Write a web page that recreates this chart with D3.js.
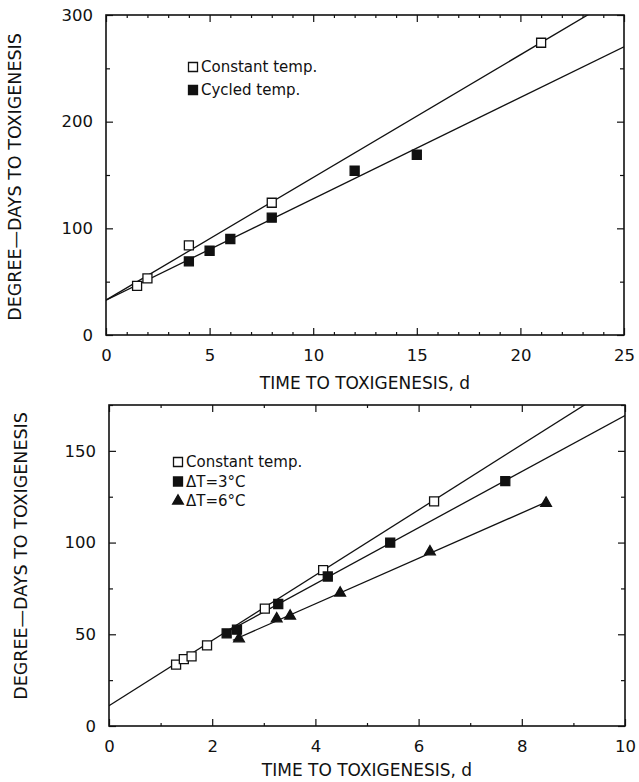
<!DOCTYPE html>
<html>
<head>
<meta charset="utf-8">
<script src="https://cdn.jsdelivr.net/npm/d3@7"></script>
<style>
  body { margin: 0; background: #fff; }
  text { font-family: "DejaVu Sans", sans-serif; fill: #111; }
</style>
</head>
<body>
<script>
// ---- top panel data (days, degree-days) ----
const topConstX = [1.5, 2, 4, 8, 21];
const topConstY = [46, 53, 84, 124, 274];
const topCycledX = [4, 5, 6, 8, 12, 15];
const topCycledY = [69, 79, 90, 110, 154, 169];
// fitted lines: [intercept, slope, xStart, xEnd]
const topConstFit = [32.7, 11.5, 0, 25];
const topCycledFit = [32.7, 9.5, 0, 25];

// ---- bottom panel data ----
const botConstX = [1.3, 1.45, 1.6, 1.9, 3.02, 4.15, 6.3];
const botConstY = [33.5, 36.5, 38, 44, 64, 85, 122.5];
const bot3X = [2.28, 2.48, 3.28, 4.24, 5.45, 7.68];
const bot3Y = [50.5, 52.5, 66.5, 81.5, 100, 133.5];
const bot6X = [2.52, 3.25, 3.51, 4.48, 6.22, 8.47];
const bot6Y = [47.6, 58.5, 60, 72.5, 95, 121.5];
const botConstFit = [11, 17.8, 0, 10];
const bot3Fit = [16.3, 15.3, 2.3, 10];
const bot6Fit = [17, 12.4, 2.4, 8.47];

const yTitle = "DEGREE\u2014DAYS TO TOXIGENESIS";
const xTitle = "TIME TO TOXIGENESIS, d";

const svg = d3.select("body").append("svg")
    .attr("width", 639).attr("height", 782);

function panel(p) {
  const x = d3.scaleLinear().domain(p.xDomain).range([p.left, p.right]);
  const y = d3.scaleLinear().domain(p.yDomain).range([p.bottom, p.top]);
  const g = svg.append("g");

  const clipId = "clip" + p.id;
  svg.append("clipPath").attr("id", clipId).append("rect")
      .attr("x", p.left).attr("y", p.top)
      .attr("width", p.right - p.left).attr("height", p.bottom - p.top);

  const axes = [
    [d3.axisBottom(x).tickValues(p.xMajor).tickSize(-7).tickPadding(14), `translate(0,${p.bottom})`, true],
    [d3.axisBottom(x).tickValues(p.xMinor).tickSize(-3).tickFormat(""), `translate(0,${p.bottom})`, false],
    [d3.axisTop(x).tickValues(p.xMajor).tickSize(-7).tickFormat(""), `translate(0,${p.top})`, false],
    [d3.axisTop(x).tickValues(p.xMinor).tickSize(-3).tickFormat(""), `translate(0,${p.top})`, false],
    [d3.axisLeft(y).tickValues(p.yMajor).tickSize(-7).tickPadding(13), `translate(${p.left},0)`, true],
    [d3.axisLeft(y).tickValues(p.yMinor).tickSize(-4).tickFormat(""), `translate(${p.left},0)`, false],
    [d3.axisRight(y).tickValues(p.yMajor).tickSize(-7).tickFormat(""), `translate(${p.right},0)`, false],
    [d3.axisRight(y).tickValues(p.yMinor).tickSize(-4).tickFormat(""), `translate(${p.right},0)`, false]
  ];
  axes.forEach(([ax, tr, labels]) => {
    const a = g.append("g").attr("transform", tr).call(ax);
    a.select(".domain").remove();
    a.selectAll("line").attr("stroke", "#111").attr("stroke-width", 1.2);
    if (labels) a.selectAll("text").style("font-size", "16.5px")
        .style("font-family", "DejaVu Sans, sans-serif").attr("fill", "#111");
  });

  g.append("rect")
      .attr("x", p.left).attr("y", p.top)
      .attr("width", p.right - p.left).attr("height", p.bottom - p.top)
      .attr("fill", "none").attr("stroke", "#111").attr("stroke-width", 1.6);

  // fitted lines
  const lines = g.append("g").attr("clip-path", `url(#${clipId})`);
  p.fits.forEach(f => {
    const [b, m, x0, x1] = f;
    lines.append("line")
        .attr("x1", x(x0)).attr("y1", y(b + m * x0))
        .attr("x2", x(x1)).attr("y2", y(b + m * x1))
        .attr("stroke", "#111").attr("stroke-width", 1.3);
  });

  // markers
  p.series.forEach(s => {
    const sym = d3.symbol().type(s.shape).size(s.size);
    g.append("g").selectAll("path")
      .data(d3.zip(s.xs, s.ys))
      .join("path")
        .attr("transform", d => `translate(${x(d[0])},${y(d[1])})`)
        .attr("d", sym)
        .attr("fill", s.open ? "#fff" : "#111")
        .attr("stroke", "#111").attr("stroke-width", 1.3);
  });

  // legend
  p.series.forEach((s, i) => {
    const ly = p.legY + i * p.legStep;
    g.append("path")
        .attr("transform", `translate(${p.legX},${ly})`)
        .attr("d", d3.symbol().type(s.shape).size(s.size)())
        .attr("fill", s.open ? "#fff" : "#111")
        .attr("stroke", "#111").attr("stroke-width", 1.3);
    g.append("text")
        .attr("x", p.legX + 8).attr("y", ly).attr("dy", "0.35em")
        .style("font-size", "15px").text(s.label);
  });

  // axis titles
  g.append("text")
      .attr("x", (p.left + p.right) / 2).attr("y", p.bottom + p.xTitleGap)
      .attr("dy", "0.35em").attr("text-anchor", "middle")
      .style("font-size", "17px").text(xTitle);
  g.append("text")
      .attr("transform", `translate(${p.yTitleX},${p.yTitleY}) rotate(-90)`)
      .attr("dy", "0.35em").attr("text-anchor", "middle")
      .style("font-size", "17.5px").text(yTitle);
}

panel({
  id: "top", left: 106, right: 624, top: 15, bottom: 335,
  xDomain: [0, 25], yDomain: [0, 300],
  xMajor: [0, 5, 10, 15, 20, 25], xMinor: d3.range(1, 25).filter(v => v % 5),
  yMajor: [0, 100, 200, 300], yMinor: [50, 150, 250],
  fits: [topConstFit, topCycledFit],
  series: [
    {xs: topConstX, ys: topConstY, shape: d3.symbolSquare, size: 81, open: true, label: "Constant temp."},
    {xs: topCycledX, ys: topCycledY, shape: d3.symbolSquare, size: 81, open: false, label: "Cycled temp."}
  ],
  legX: 193, legY: 67, legStep: 23,
  xTitleGap: 48, yTitleX: 15, yTitleY: 177
});

panel({
  id: "bot", left: 109, right: 625, top: 405, bottom: 726,
  xDomain: [0, 10], yDomain: [0, 175],
  xMajor: [0, 2, 4, 6, 8, 10], xMinor: [1, 3, 5, 7, 9],
  yMajor: [0, 50, 100, 150], yMinor: [25, 75, 125, 175],
  fits: [botConstFit, bot3Fit, bot6Fit],
  series: [
    {xs: botConstX, ys: botConstY, shape: d3.symbolSquare, size: 81, open: true, label: "Constant temp."},
    {xs: bot3X, ys: bot3Y, shape: d3.symbolSquare, size: 81, open: false, label: "\u0394T=3\u00b0C"},
    {xs: bot6X, ys: bot6Y, shape: d3.symbolTriangle, size: 50, open: false, label: "\u0394T=6\u00b0C"}
  ],
  legX: 178, legY: 462, legStep: 19.5,
  xTitleGap: 44, yTitleX: 21, yTitleY: 556
});
</script>
</body>
</html>
